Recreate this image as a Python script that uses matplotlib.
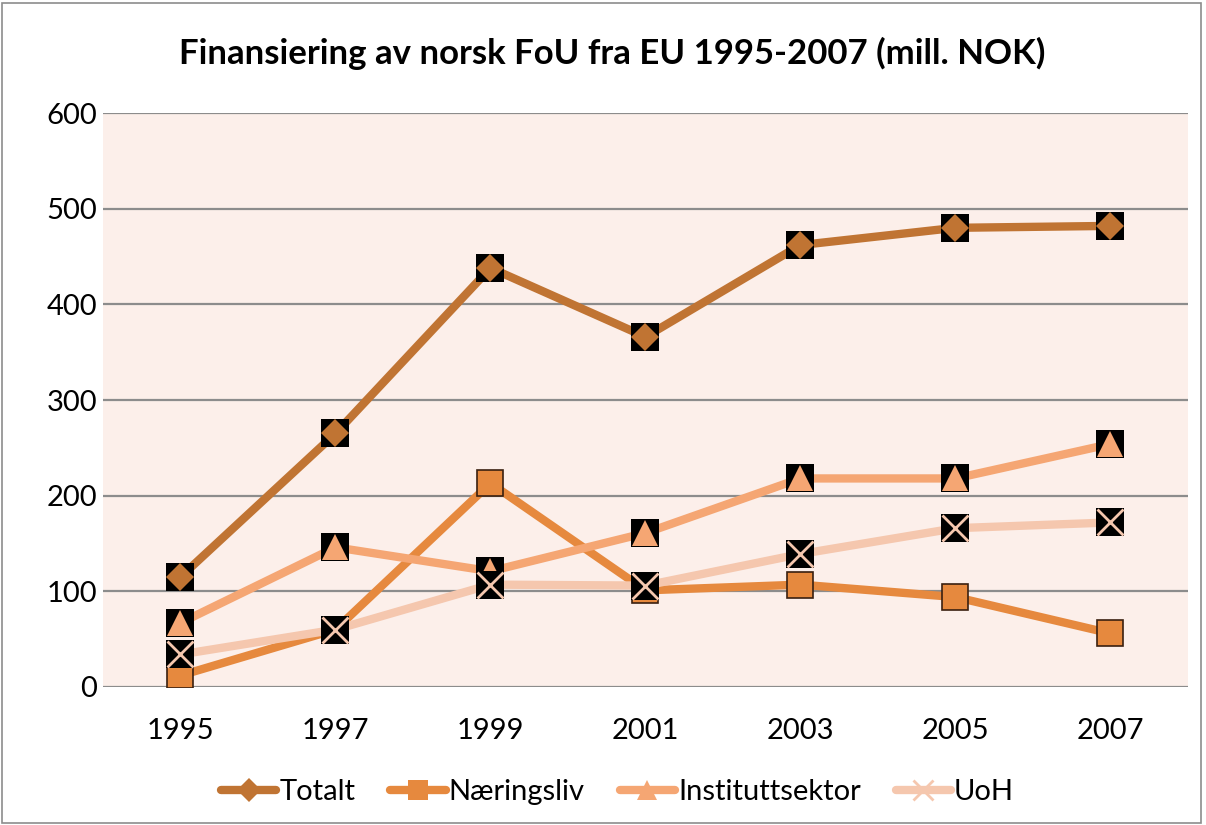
import matplotlib
matplotlib.use("Agg")
import matplotlib.pyplot as plt
from matplotlib.lines import Line2D
from matplotlib.patches import Rectangle

years = ["1995", "1997", "1999", "2001", "2003", "2005", "2007"]
totalt = [115, 265, 438, 366, 462, 480, 482]
naeringsliv = [12, 60, 213, 101, 107, 94, 56]
institutt = [67, 146, 121, 161, 218, 218, 254]
uoh = [34, 60, 107, 106, 139, 166, 172]
labels = ["Totalt", "Næringsliv", "Instituttsektor", "UoH"]
colors = ["#C07433", "#E6893E", "#F5A673", "#F5C7AE"]
yticks = [0, 100, 200, 300, 400, 500, 600]

plt.rcParams['font.family'] = ['Lato', 'DejaVu Sans']

fig = plt.figure(figsize=(12.06, 8.25), dpi=100)
fig.patch.set_facecolor("white")
ax = fig.add_axes([0.0854, 0.1673, 0.8996, 0.6957])
ax.set_facecolor("#FCEFEA")

x = list(range(len(years)))
series = [totalt, naeringsliv, institutt, uoh]
order = [1, 3, 2, 0]
for i in order:
    vals = series[i]
    c = colors[i]
    ax.plot(x, vals, color=c, lw=6, solid_capstyle="round", zorder=3 + i * 0.1)
for i in order:
    vals = series[i]
    c = colors[i]
    z = 5 + i * 0.1
    if i == 1:
        ax.plot(x, vals, ls="none", marker="s", ms=19, mfc=c, mec="#3a2010", mew=1.2, zorder=z)
    else:
        ax.plot(x, vals, ls="none", marker="s", ms=20, mfc="black", mec="black", mew=0, zorder=z)
        if i == 0:
            ax.plot(x, vals, ls="none", marker="D", ms=14, mfc=c, mec=c, mew=0, zorder=z + 0.01)
        elif i == 2:
            ax.plot(x, vals, ls="none", marker="^", ms=19, mfc=c, mec=c, mew=0, zorder=z + 0.01)
        else:
            ax.plot(x, vals, ls="none", marker="x", ms=19, mfc=c, mec=c, mew=2, zorder=z + 0.01)

ax.set_xlim(-0.5, len(years) - 0.5)
ax.set_ylim(0, 600)
ax.set_yticks(yticks)
ax.set_xticks(x)
ax.set_xticklabels(years)
ax.tick_params(axis="both", length=0, labelsize=21)
ax.tick_params(axis="x", pad=22)
ax.tick_params(axis="y", pad=4)
ax.grid(axis="y", color="#8C8C8C", lw=1.6, zorder=1)
for s in ax.spines.values():
    s.set_visible(False)

fig.suptitle("Finansiering av norsk FoU fra EU 1995-2007 (mill. NOK)", x=0.508, y=0.955,
             fontsize=25, fontweight="bold")

handles = []
mk = ["D", "s", "^", "x"]
ms = [12, 14, 14, 14]
for i in range(4):
    handles.append(Line2D([0], [0], color=colors[i], lw=6, marker=mk[i], ms=ms[i],
                          mfc=colors[i], mec=colors[i], mew=2 if mk[i] == "x" else 0,
                          solid_capstyle="round"))
fig.legend(handles, labels, loc="center", bbox_to_anchor=(0.512, 0.04), ncol=4,
           frameon=False, fontsize=21, handlelength=1.9, handletextpad=0.1,
           columnspacing=1.2)

fig.patches.append(Rectangle((0.002, 0.002), 0.994, 0.994, transform=fig.transFigure,
                             fill=False, edgecolor="#8C8C8C", lw=1.2))

fig.savefig("out.png", dpi=100)
